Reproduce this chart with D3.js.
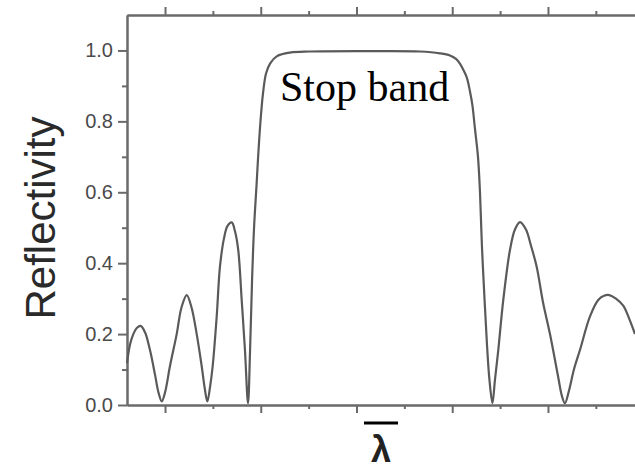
<!DOCTYPE html>
<html>
<head>
<meta charset="utf-8">
<script src="https://cdn.jsdelivr.net/npm/d3@7/dist/d3.min.js"></script>
<style>
  body { margin: 0; background: #fff; }
  .axis path, .axis line { stroke: #6a6a6a; stroke-width: 2px; }
  .axis text { fill: #4a4a4a; font-family: "Liberation Sans", Arial, sans-serif; font-size: 20px; }
</style>
</head>
<body>
<div id="chart"></div>
<script>
// wavelength (arbitrary units, major ticks at integers) and reflectivity
var lambdaVals = [0.603, 0.634, 0.669, 0.708, 0.746, 0.791, 0.843, 0.896, 0.932, 0.966,
    1.000, 1.052, 1.122, 1.172, 1.227, 1.277, 1.331, 1.383, 1.416, 1.442,
    1.470, 1.498, 1.540, 1.574, 1.616, 1.653, 1.697, 1.731, 1.765, 1.801,
    1.835, 1.867, 1.888, 1.909, 1.930, 1.956, 1.977, 2.003, 2.024, 2.055,
    2.097, 2.170, 2.306, 2.514, 3.141, 3.663, 3.872, 3.976, 4.039, 4.080,
    4.122, 4.154, 4.185, 4.211, 4.237, 4.269, 4.290, 4.310, 4.337, 4.363,
    4.389, 4.420, 4.446, 4.481, 4.533, 4.603, 4.655, 4.708, 4.770, 4.822,
    4.882, 4.948, 5.021, 5.108, 5.146, 5.177, 5.219, 5.271, 5.334, 5.438,
    5.525, 5.585, 5.640, 5.710, 5.786, 5.846, 5.909];
var reflVals = [0.118, 0.17, 0.2, 0.218, 0.223, 0.205, 0.155, 0.085, 0.035, 0.01,
    0.035, 0.11, 0.2, 0.275, 0.31, 0.275, 0.2, 0.11, 0.045, 0.01,
    0.05, 0.11, 0.25, 0.39, 0.47, 0.505, 0.515, 0.49, 0.437, 0.296,
    0.155, 0.005, 0.15, 0.35, 0.5, 0.62, 0.72, 0.82, 0.88, 0.935,
    0.963, 0.984, 0.994, 0.997, 0.998, 0.997, 0.992, 0.986, 0.976, 0.963,
    0.942, 0.922, 0.885, 0.845, 0.78, 0.7, 0.6, 0.45, 0.3, 0.17,
    0.07, 0.005, 0.07, 0.155, 0.296, 0.437, 0.495, 0.516, 0.495, 0.45,
    0.39, 0.29, 0.2, 0.077, 0.025, 0.005, 0.04, 0.1, 0.155, 0.249,
    0.296, 0.308, 0.31, 0.3, 0.28, 0.245, 0.2];

var yMajor = [0, 0.2, 0.4, 0.6, 0.8, 1.0];
var yMinor = [0.1, 0.3, 0.5, 0.7, 0.9];
var xMajor = [1, 2, 3, 4, 5];
var xMinor = [1.5, 2.5, 3.5, 4.5, 5.5];

var data = lambdaVals.map(function(d, i) { return { x: d, y: reflVals[i] }; });

var width = 635, height = 473;
var margin = { left: 127, right: 0, top: 15, bottom: 68 };
var w = width - margin.left - margin.right;
var h = height - margin.top - margin.bottom;

var svg = d3.select("#chart")
    .append("svg")
    .attr("width", width)
    .attr("height", height);
var g = svg.append("g")
    .attr("transform", "translate(" + margin.left + "," + margin.top + ")");

var x = d3.scaleLinear().domain([0.603, 5.909]).range([0, w]);
var y = d3.scaleLinear().domain([0, 1.1]).range([h, 0]);

// left axis
g.append("g").attr("class", "axis")
    .call(d3.axisLeft(y).tickValues(yMajor).tickFormat(d3.format(".1f"))
        .tickSize(9).tickSizeOuter(0).tickPadding(5));
g.append("g").attr("class", "axis")
    .call(d3.axisLeft(y).tickValues(yMinor).tickFormat("").tickSize(5).tickSizeOuter(0));

// bottom axis
g.append("g").attr("class", "axis")
    .attr("transform", "translate(0," + h + ")")
    .call(d3.axisBottom(x).tickValues(xMajor).tickFormat("").tickSize(8).tickSizeOuter(0));
g.append("g").attr("class", "axis")
    .attr("transform", "translate(0," + h + ")")
    .call(d3.axisBottom(x).tickValues(xMinor).tickFormat("").tickSize(4).tickSizeOuter(0));

// top axis
g.append("g").attr("class", "axis")
    .call(d3.axisTop(x).tickValues(xMajor).tickFormat("").tickSize(8).tickSizeOuter(0));
g.append("g").attr("class", "axis")
    .call(d3.axisTop(x).tickValues(xMinor).tickFormat("").tickSize(4).tickSizeOuter(0));

var line = d3.line()
    .x(function(d) { return x(d.x); })
    .y(function(d) { return y(Math.max(0, d.y)); })
    .curve(d3.curveCatmullRom.alpha(0.5));

g.append("path")
    .datum(data)
    .attr("fill", "none")
    .attr("stroke", "#5a5a5a")
    .attr("stroke-width", 2.2)
    .attr("d", line);

// labels
g.append("text")
    .attr("x", 153)
    .attr("y", 86)
    .attr("font-family", "'Liberation Serif', 'Times New Roman', serif")
    .attr("font-size", 42)
    .attr("fill", "#000")
    .text("Stop band");

svg.append("text")
    .attr("transform", "translate(55,218) rotate(-90)")
    .attr("text-anchor", "middle")
    .attr("font-family", "'Liberation Sans', Arial, sans-serif")
    .attr("font-size", 42)
    .attr("fill", "#2a2a2a")
    .text("Reflectivity");

svg.append("text")
    .attr("x", 381)
    .attr("y", 462)
    .attr("text-anchor", "middle")
    .attr("font-family", "'Liberation Sans', Arial, sans-serif")
    .attr("font-weight", "bold")
    .attr("font-size", 36)
    .attr("fill", "#222")
    .text("λ");
svg.append("line")
    .attr("x1", 364).attr("x2", 398)
    .attr("y1", 423).attr("y2", 423)
    .attr("stroke", "#000")
    .attr("stroke-width", 3);
</script>
</body>
</html>
